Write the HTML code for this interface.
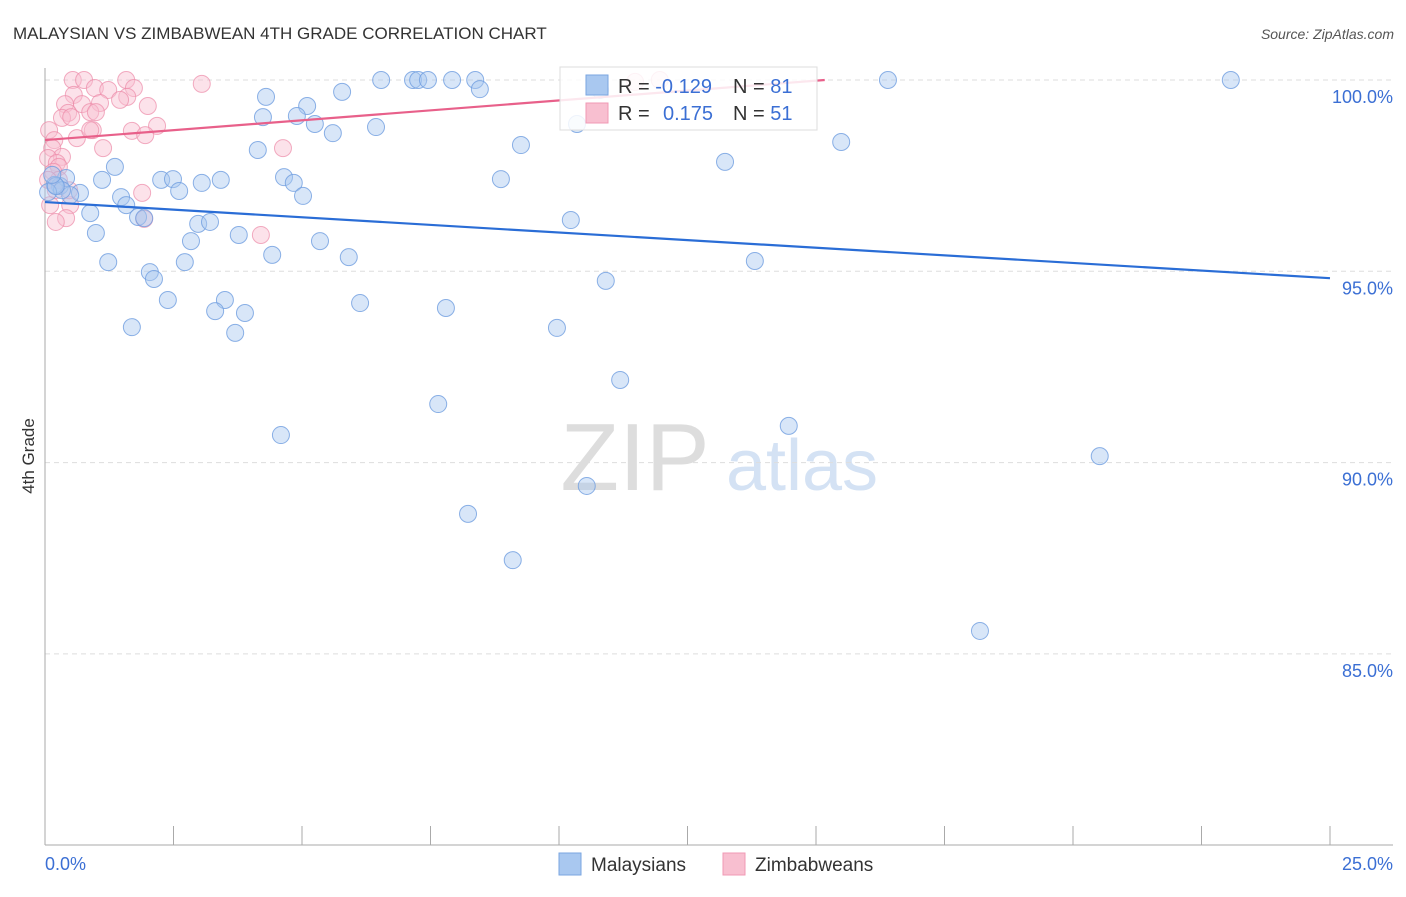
<!DOCTYPE html>
<html><head><meta charset="utf-8"><style>
body{margin:0;background:#fff;font-family:"Liberation Sans",sans-serif}
svg text{font-family:"Liberation Sans",sans-serif}
</style></head><body>
<svg id="chart" width="1406" height="892" xmlns="http://www.w3.org/2000/svg">
<text x="13" y="39" font-size="17" fill="#333">MALAYSIAN VS ZIMBABWEAN 4TH GRADE CORRELATION CHART</text>
<text x="1394" y="39" font-size="14" fill="#555" text-anchor="end" font-style="italic">Source: ZipAtlas.com</text>
<text transform="translate(34,456) rotate(-90)" font-size="17" fill="#333" text-anchor="middle">4th Grade</text>
<g>
<text x="635" y="490" font-size="96" fill="#ddd" text-anchor="middle" font-family="Liberation Serif">ZIP</text>
<text x="802" y="490" font-size="72" fill="#d4e2f4" text-anchor="middle">atlas</text>
</g>
<g id="grid"></g><g id="axes"></g><g id="pts"></g><g id="trend"></g>
<g>
<rect x="560" y="67" width="257" height="63" fill="#fff" fill-opacity="0.85" stroke="#ddd"/>
<rect x="586" y="75" width="22" height="20" fill="#a9c8f0" stroke="#7aa6e0"/>
<rect x="586" y="103" width="22" height="20" fill="#f8bfd0" stroke="#f09ab4"/>
<text x="618" y="93" font-size="20" fill="#333">R = <tspan fill="#3b6fd4">-0.129</tspan></text>
<text x="733" y="93" font-size="20" fill="#333">N = <tspan fill="#3b6fd4">81</tspan></text>
<text x="618" y="120" font-size="20" fill="#333">R = <tspan fill="#3b6fd4" x="663">0.175</tspan></text>
<text x="733" y="120" font-size="20" fill="#333">N = <tspan fill="#3b6fd4">51</tspan></text>
</g>
<g>
<rect x="559" y="853" width="22" height="22" fill="#a9c8f0" stroke="#7aa6e0"/>
<text x="591" y="871" font-size="19" fill="#333">Malaysians</text>
<rect x="723" y="853" width="22" height="22" fill="#f8bfd0" stroke="#f09ab4"/>
<text x="755" y="871" font-size="19" fill="#333">Zimbabweans</text>
</g>
</svg>
<script>
const blueX=[6.54,7.16,7.26,7.45,7.92,8.37,8.46,16.40,23.07,4.30,5.78,5.10,4.24,4.90,5.25,5.60,6.44,10.35,9.26,4.14,15.49,13.23,1.36,1.11,2.26,2.49,3.05,3.42,4.65,4.84,5.02,2.61,0.29,0.41,0.68,0.49,1.48,1.58,0.88,1.81,1.93,0.99,2.98,3.21,3.77,2.84,5.35,8.87,10.23,4.42,5.91,1.23,2.72,13.81,2.04,2.12,10.91,2.39,3.50,3.31,3.89,6.13,7.80,1.69,3.70,9.96,11.19,7.65,4.59,14.47,10.54,8.23,9.10,20.52,18.19,0.19,0.33,0.06,10.80,0.21,0.14];
const blueY=[100,100,100,100,100,100,99.76,100,100,99.56,99.69,99.32,99.03,99.06,98.85,98.61,98.77,98.85,98.30,98.17,98.38,97.86,97.73,97.39,97.39,97.41,97.31,97.39,97.46,97.31,96.97,97.10,97.23,97.44,97.05,96.99,96.94,96.73,96.52,96.42,96.39,96.00,96.24,96.29,95.95,95.79,95.79,97.41,96.34,95.43,95.37,95.24,95.24,95.27,94.98,94.80,94.75,94.25,94.25,93.96,93.91,94.17,94.04,93.54,93.39,93.52,92.16,91.53,90.72,90.96,89.39,88.66,87.45,90.17,85.60,97.26,97.12,97.07,99.74,97.23,97.52];
const pinkX=[0.54,0.76,1.58,3.05,0.97,1.73,1.23,0.56,1.60,0.39,0.72,1.07,2.00,0.88,0.45,0.99,0.33,0.51,2.18,0.08,1.69,0.93,0.62,1.95,0.18,0.14,1.13,4.63,0.33,0.06,0.23,0.27,0.16,1.89,0.27,0.49,0.10,1.93,0.41,0.21,4.20,0.21,0.06,0.47,0.88,1.46,11.48,11.96];
const pinkY=[100,100,100,99.90,99.79,99.79,99.74,99.61,99.56,99.37,99.37,99.40,99.32,99.16,99.14,99.16,99.01,99.03,98.80,98.69,98.67,98.69,98.48,98.56,98.43,98.22,98.22,98.22,97.99,97.96,97.83,97.73,97.60,97.05,97.39,96.73,96.73,96.37,96.39,96.29,95.95,97.12,97.39,97.12,98.69,99.48,99.95,100];
const blueTrendX=[0,25], blueTrendY=[96.81,94.82];
const pinkTrendX=[0,15.17], pinkTrendY=[98.43,100];
const yTicks=[100,95,90,85];
const yTickLabels=["100.0%","95.0%","90.0%","85.0%"];
const xTicks=[0,2.5,5,7.5,10,12.5,15,17.5,20,22.5,25];
const xTickLabels=["0.0%","25.0%"];
const NS="http://www.w3.org/2000/svg";
const sx=v=>45+v/25*1285, sy=v=>80+(100-v)/5*191.3;
function mk(tag,attrs,parent){const e=document.createElementNS(NS,tag);for(const k in attrs)e.setAttribute(k,attrs[k]);document.getElementById(parent).appendChild(e);return e;}
yTicks.forEach((t,i)=>{
 const l=mk('line',{x1:45,x2:1393,y1:sy(t),y2:sy(t),stroke:'#ddd','stroke-dasharray':'5,4'},'grid');
 
 
 const tx=mk('text',{x:1393,y:sy(t)+23,'font-size':18,fill:'#3b6fd4','text-anchor':'end'},'grid');
 tx.textContent=yTickLabels[i];
 
 
});
let a=mk('line',{x1:45,x2:45,y1:68,y2:845,stroke:'#aaa'},'axes');


a=mk('line',{x1:45,x2:1393,y1:845,y2:845,stroke:'#aaa'},'axes');


xTicks.forEach(t=>{
 const l=mk('line',{x1:sx(t),x2:sx(t),y1:826,y2:845,stroke:'#aaa'},'axes');
 
 
});
let t1=mk('text',{x:45,y:870,'font-size':18,fill:'#3b6fd4'},'axes');t1.textContent=xTickLabels[0];


let t2=mk('text',{x:1393,y:870,'font-size':18,fill:'#3b6fd4','text-anchor':'end'},'axes');t2.textContent=xTickLabels[1];


pinkX.forEach((x,i)=>{
 const c=mk('circle',{cx:sx(x),cy:sy(pinkY[i]),r:8.5,fill:'#f8bfd0','fill-opacity':0.45,stroke:'#ec8aa8','stroke-opacity':0.7},'pts');
 
 
});
blueX.forEach((x,i)=>{
 const c=mk('circle',{cx:sx(x),cy:sy(blueY[i]),r:8.5,fill:'#a9c8f0','fill-opacity':0.45,stroke:'#6f9ee0','stroke-opacity':0.8},'pts');
 
 
});
let bl=mk('line',{x1:sx(blueTrendX[0]),y1:sy(blueTrendY[0]),x2:sx(blueTrendX[1]),y2:sy(blueTrendY[1]),stroke:'#2a6dd6','stroke-width':2.2},'trend');


let pl=mk('line',{x1:sx(pinkTrendX[0]),y1:sy(pinkTrendY[0]),x2:sx(pinkTrendX[1]),y2:sy(pinkTrendY[1]),stroke:'#e8608a','stroke-width':2.2},'trend');


</script>
</body></html>
